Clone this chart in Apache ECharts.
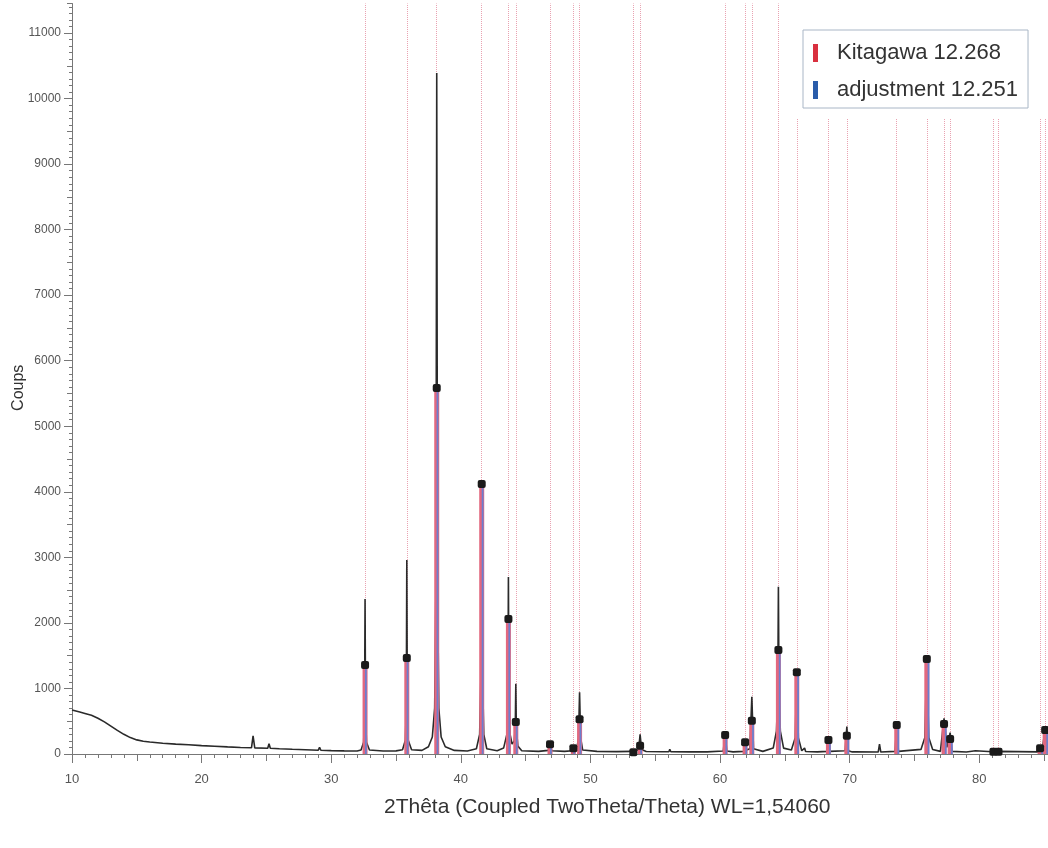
<!DOCTYPE html>
<html><head><meta charset="utf-8">
<script src="https://cdn.jsdelivr.net/npm/echarts@6/dist/echarts.min.js"></script>
<style>html,body{margin:0;padding:0;background:#fff}#c{width:1048px;height:848px}</style>
</head><body><div id="c"></div>
<script>
// ---- data ----
const xTicks = [10, 20, 30, 40, 50, 60, 70, 80];
const yTicks = [0, 1000, 2000, 3000, 4000, 5000, 6000, 7000, 8000, 9000, 10000, 11000];

const refName = 'Kitagawa 12.268';
const adjName = 'adjustment 12.251';

const refPositions = [32.61, 35.83, 38.14, 41.61, 43.67, 44.24, 46.88, 48.68, 49.16, 53.31, 53.83,
  60.39, 61.93, 62.45, 64.50, 65.92, 68.36, 69.78, 73.63, 75.95, 77.28, 77.75, 81.09, 81.48, 84.69, 85.08];
const refIntensities = [1358, 1465, 5584, 4119, 2060, 488, 148, 87, 529, 26, 127,
  290, 178, 508, 1587, 1246, 214, 280, 442, 1450, 458, 229, 35, 35, 87, 366];

const adjPositions = [32.67, 35.89, 38.20, 41.68, 43.74, 44.31, 46.95, 48.75, 49.23, 53.39, 53.91,
  60.48, 62.02, 62.54, 64.60, 66.02, 68.47, 69.89, 73.75, 76.08, 77.41, 77.88, 81.23, 81.63, 84.85, 85.24];
const adjIntensities = [1358, 1465, 5584, 4119, 2060, 488, 148, 87, 529, 26, 127,
  290, 178, 508, 1587, 1246, 214, 280, 442, 1450, 458, 229, 35, 35, 87, 366];

const measured = [
  [10.0,670],[10.3,655],[10.6,640],[11.0,618],[11.5,590],[12.0,545],[12.5,490],[13.0,425],[13.5,360],
  [14.0,300],[14.5,250],[15.0,215],[15.5,195],[16.0,182],[17.0,165],[18.0,150],[19.0,140],[20.0,128],
  [21.0,118],[22.0,108],[23.0,100],[23.85,96],[23.97,275],[24.1,94],[25.1,88],[25.2,155],[25.3,87],
  [26.0,80],[27.0,72],[28.0,65],[29.0,58],[29.1,100],[29.2,57],[30.0,52],[31.0,48],[32.0,46],
  [32.3,60],[32.5,180],[32.57,600],[32.61,2365],[32.65,600],[32.72,180],[32.95,60],
  [34.0,46],[35.0,48],
  [35.5,65],[35.72,210],[35.79,700],[35.83,2960],[35.87,700],[35.94,210],[36.2,65],
  [37.0,55],
  [37.5,110],[37.8,260],[37.98,700],[38.08,2600],[38.14,10390],[38.2,2600],[38.3,700],[38.48,260],[38.8,110],
  [39.5,55],[40.5,45],
  [41.2,80],[41.45,300],[41.55,1200],[41.61,4150],[41.67,1200],[41.77,300],[42.0,80],[42.8,50],
  [43.3,90],[43.55,300],[43.63,900],[43.67,2700],[43.71,900],[43.8,300],[43.95,150],
  [44.12,200],[44.2,400],[44.24,1070],[44.28,400],[44.4,120],[44.7,50],
  [46.0,40],[46.75,55],[46.88,160],[47.0,50],[48.0,40],[48.6,50],[48.68,95],[48.78,55],
  [48.95,80],[49.08,250],[49.16,941],[49.24,250],[49.4,60],[50.5,40],[52.0,36],
  [53.2,40],[53.31,55],[53.42,40],[53.72,70],[53.83,300],[53.94,70],[54.3,38],[55.5,35],
  [56.05,35],[56.12,70],[56.2,35],[57.6,33],[57.7,50],[57.8,33],[59.0,32],
  [60.25,45],[60.39,320],[60.52,45],[61.0,32],[61.82,40],[61.93,185],[62.05,60],
  [62.3,80],[62.45,874],[62.58,80],[63.3,40],
  [64.1,90],[64.35,350],[64.45,900],[64.5,2553],[64.55,900],[64.65,350],[64.9,90],
  [65.5,60],[65.8,250],[65.92,1280],[66.04,250],[66.3,50],[66.45,40],[66.52,90],[66.6,38],
  [67.5,32],[68.25,40],[68.36,220],[68.47,40],[69.65,50],[69.78,417],[69.9,50],
  [70.2,32],[70.3,60],[70.4,32],[72.2,30],[72.3,150],[72.4,30],
  [73.5,40],[73.63,450],[73.76,40],
  [75.5,70],[75.8,250],[75.95,1485],[76.1,250],[76.4,70],
  [77.0,40],[77.28,545],[77.5,100],[77.75,325],[77.9,40],[79.0,30],[79.7,50],[79.8,30],
  [81.0,35],[81.09,40],[81.3,32],[81.48,40],[81.6,30],[84.5,32],[84.69,95],[84.85,60],[85.08,380],[85.3,100]
];

// ---- chart ----
const FONT = 'Liberation Sans, Arial, sans-serif';
const X_MIN = 10, X_MAX = 85.3, Y_MIN = 0, Y_MAX = 11450;

function zip(xs, ys) { return xs.map((x, i) => [x, ys[i]]); }

function barRenderer(width, color) {
  return function (params, api) {
    const top = api.coord([api.value(0), api.value(1)]);
    const bot = api.coord([api.value(0), 0]);
    return {
      type: 'rect',
      shape: { x: top[0] - width / 2, y: top[1], width: width, height: bot[1] - top[1] },
      style: { fill: color }
    };
  };
}

const chart = echarts.init(document.getElementById('c'), null, { renderer: 'canvas' });
chart.setOption({
  animation: false,
  backgroundColor: '#ffffff',
  textStyle: { fontFamily: FONT },
  grid: { left: 72, right: 0, top: 3.5, bottom: 94, containLabel: false, outerBoundsMode: 'none' },
  title: {
    text: '2Thêta (Coupled TwoTheta/Theta) WL=1,54060',
    left: 379, top: 792,
    textStyle: { fontSize: 21, fontWeight: 'normal', color: '#333', fontFamily: FONT }
  },
  legend: {
    data: [refName, adjName],
    orient: 'vertical',
    left: 803, top: 30, z: 60,
    padding: [12, 10, 7, 10],
    itemGap: 15,
    icon: 'rect',
    itemWidth: 5, itemHeight: 18,
    backgroundColor: '#ffffff',
    borderColor: '#a9b6c6', borderWidth: 1,
    textStyle: { fontSize: 22, color: '#333', fontFamily: FONT, padding: [0, 0, 0, 14] },
    selectedMode: false
  },
  graphic: [{
    type: 'rect', left: 790, top: 0, z: 50,
    shape: { width: 258, height: 118 },
    style: { fill: '#ffffff' }
  }],
  xAxis: [{
    type: 'value', min: X_MIN, max: X_MAX, interval: 10,
    axisLine: { show: true, lineStyle: { color: '#777', width: 1 } },
    axisTick: { show: true, length: 9, lineStyle: { color: '#777' }, customValues: xTicks },
    minorTick: { show: true, splitNumber: 10, length: 4, lineStyle: { color: '#777' } },
    axisLabel: { customValues: xTicks, margin: 19, fontSize: 13, color: '#555', fontFamily: FONT },
    splitLine: { show: false }
  }, {
    type: 'value', min: X_MIN, max: X_MAX, interval: 5, position: 'bottom',
    axisLine: { show: false }, axisLabel: { show: false }, splitLine: { show: false },
    axisTick: { show: true, length: 7, lineStyle: { color: '#777' } }
  }],
  yAxis: [{
    type: 'value', min: Y_MIN, max: Y_MAX, interval: 1000,
    name: 'Coups', nameLocation: 'middle', nameGap: 45, nameRotate: 90, nameMoveOverlap: false,
    nameTextStyle: { fontSize: 16, color: '#333', fontFamily: FONT, padding: [0, 18, 0, 0] },
    axisLine: { show: true, lineStyle: { color: '#777', width: 1 } },
    axisTick: { show: true, length: 8, lineStyle: { color: '#777' }, customValues: yTicks },
    minorTick: { show: true, splitNumber: 10, length: 3, lineStyle: { color: '#777' } },
    axisLabel: {
      customValues: yTicks, margin: 11, fontSize: 12, color: '#555', fontFamily: FONT,
      formatter: function (v) { return String(v); }
    },
    splitLine: { show: false }
  }, {
    type: 'value', min: Y_MIN, max: Y_MAX, interval: 500, position: 'left',
    axisLine: { show: false }, axisLabel: { show: false }, splitLine: { show: false },
    axisTick: { show: true, length: 5, lineStyle: { color: '#777' } }
  }],
  series: [
    {
      name: 'refLines', type: 'line', data: [], z: 1, silent: true,
      markLine: {
        z: 1,
        silent: true, symbol: ['none', 'none'], animation: false,
        label: { show: false },
        lineStyle: { type: 'dotted', color: '#e07a90', width: 1, opacity: 0.7 },
        data: refPositions.map(v => ({ xAxis: v }))
      }
    },
    {
      name: 'measured', type: 'line', data: measured, z: 2,
      showSymbol: false, symbol: 'none',
      lineStyle: { color: '#2a2a2a', width: 1.6 }
    },
    {
      name: refName, type: 'custom', z: 3,
      itemStyle: { color: '#d9303f' },
      data: zip(refPositions, refIntensities),
      encode: { x: 0, y: 1 },
      renderItem: barRenderer(5, '#e2687f')
    },
    {
      name: adjName, type: 'custom', z: 3,
      itemStyle: { color: '#2a5caa' },
      data: zip(adjPositions, adjIntensities),
      encode: { x: 0, y: 1 },
      renderItem: barRenderer(1.8, '#6a7fcf')
    },
    {
      name: 'peakTops', type: 'scatter', z: 4,
      data: zip(refPositions, refIntensities),
      symbol: 'roundRect', symbolSize: 8,
      itemStyle: { color: '#1a1a1a', opacity: 1 }
    }
  ]
});
</script>
</body></html>
